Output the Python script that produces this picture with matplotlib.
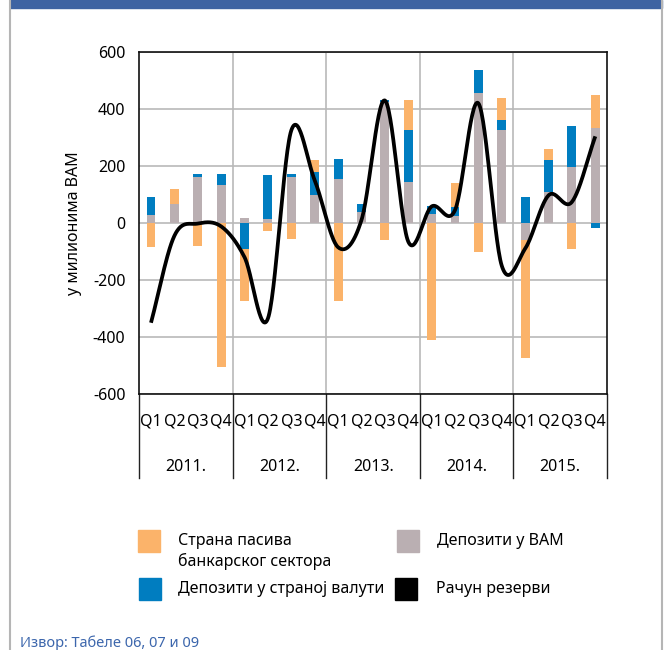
import numpy as np
import matplotlib
matplotlib.use("Agg")
import matplotlib.pyplot as plt
from matplotlib.patches import Rectangle
from matplotlib.lines import Line2D
import matplotlib.transforms as mtransforms

plt.rcParams["font.family"] = ["Noto Sans", "DejaVu Sans"]

years = ["2011.", "2012.", "2013.", "2014.", "2015."]
quarters = ["Q1", "Q2", "Q3", "Q4"]

# млн КМ по кварталима
strana_pasiva = [-85, 52, -81, -504,
                 -182, -28, -57, 41,
                 -274, 0, -61, 107,
                 -409, 85, -103, 78,
                 -417, 39, -92, 117]
depoziti_bam = [27, 68, 161, 132,
                19, 13, 161, 97,
                155, 37, 425, 144,
                30, 23, 455, 327,
                -58, 109, 196, 333]
depoziti_devizni = [63, 0, 12, 41,
                    -92, 154, 12, 82,
                    70, 29, 8, 181,
                    30, 33, 82, 33,
                    91, 113, 146, -16]
racun_rezervi = [-350, -45, -2, -12,
                 -120, -335, 325, 150,
                 -85, 10, 430, -65,
                 58, 45, 420, -150,
                 -90, 97, 74, 304]

c_orange = "#FBB36A"
c_gray = "#BAAFB2"
c_blue = "#007DC0"


def catmull_rom(xs, ys, n=30):
    # glatka linija kroz tacke (kao "smoothed line")
    xs = np.asarray(xs, float)
    ys = np.asarray(ys, float)
    px = np.concatenate([[2 * xs[0] - xs[1]], xs, [2 * xs[-1] - xs[-2]]])
    py = np.concatenate([[2 * ys[0] - ys[1]], ys, [2 * ys[-1] - ys[-2]]])
    out_x, out_y = [], []
    t = np.linspace(0, 1, n, endpoint=False)
    for i in range(1, len(px) - 2):
        for p, out in ((px, out_x), (py, out_y)):
            p0, p1, p2, p3 = p[i - 1], p[i], p[i + 1], p[i + 2]
            out.extend(0.5 * ((2 * p1) + (-p0 + p2) * t
                              + (2 * p0 - 5 * p1 + 4 * p2 - p3) * t ** 2
                              + (-p0 + 3 * p1 - 3 * p2 + p3) * t ** 3))
    out_x.append(xs[-1])
    out_y.append(ys[-1])
    return np.array(out_x), np.array(out_y)


fig = plt.figure(figsize=(6.67, 6.5), dpi=100)
ax = fig.add_axes([139.3 / 667, 1 - 394 / 650, (607 - 139.3) / 667, (394 - 52) / 650])

n = len(racun_rezervi)
x = np.arange(n) + 0.5
w = 0.38

# pozitivni i negativni dijelovi se slazu odvojeno: КМ, девизни, страна пасива
pos = np.zeros(n)
neg = np.zeros(n)
for vals, col in ((depoziti_bam, c_gray), (depoziti_devizni, c_blue), (strana_pasiva, c_orange)):
    v = np.array(vals, float)
    vp = np.where(v > 0, v, 0)
    vn = np.where(v < 0, v, 0)
    ax.bar(x, vp, w, bottom=pos, color=col, zorder=3, linewidth=0)
    ax.bar(x, vn, w, bottom=neg, color=col, zorder=3, linewidth=0)
    pos += vp
    neg += vn

lx, ly = catmull_rom(x, racun_rezervi)
ax.plot(lx, ly, color="black", lw=2.7, zorder=4, solid_capstyle="butt")

ax.set_xlim(0, n)
ax.set_ylim(-600, 600)
ax.set_yticks(np.arange(-600, 601, 200))
ax.set_yticklabels([str(v) for v in range(-600, 601, 200)], fontsize=11.5)
ax.tick_params(axis="y", length=0, pad=10)
ax.set_xticks([])
ax.grid(axis="y", color="#b9b9b9", lw=1.2, zorder=1)
for b in range(4, n, 4):
    ax.axvline(b, color="#b9b9b9", lw=1.2, zorder=1)
for s in ax.spines.values():
    s.set_color("#111111")
    s.set_linewidth(1.2)
ax.set_ylabel("у милионима ВАМ", fontsize=11.5, labelpad=8)

# kategorije ispod ose: kvartali i godine
trans = mtransforms.blended_transform_factory(ax.transData, ax.transAxes)
for b in range(0, n + 1, 4):
    ax.add_line(Line2D([b, b], [0, -0.246], transform=trans, color="#222222",
                       lw=1.0, clip_on=False))
for i in range(n):
    ax.text(x[i], -0.079, quarters[i % 4], transform=trans, ha="center", va="center",
            fontsize=11.5, clip_on=False)
for j, yr in enumerate(years):
    ax.text(4 * j + 2, -0.213, yr, transform=trans, ha="center", va="center",
            fontsize=11.5, clip_on=False)

# okvir i traka na vrhu
fig.patches.append(Rectangle((10 / 667, 1 - 8 / 650), 652 / 667, 8 / 650,
                             transform=fig.transFigure, color="#3E63A2", zorder=0))
for xb in (10, 662):
    fig.lines.append(Line2D([xb / 667, xb / 667], [0, 1], transform=fig.transFigure,
                            color="#b5b5b5", lw=1.5))

# legenda
def leg_item(px, py, color, tx, lines):
    fig.patches.append(Rectangle((px / 667, 1 - (py + 22) / 650), 22 / 667, 22 / 650,
                                 transform=fig.transFigure, color=color))
    for k, t in enumerate(lines):
        fig.text(tx / 667, 1 - (py + 11 + 20 * k) / 650, t, ha="left", va="center",
                 fontsize=11.5)


leg_item(138, 530, c_orange, 178, ["Страна пасива", "банкарског сектора"])
leg_item(397, 530, c_gray, 437, ["Депозити у ВАМ"])
leg_item(139, 578, c_blue, 178, ["Депозити у страној валути"])
leg_item(395, 578, "black", 436, ["Рачун резерви"])

fig.text(20 / 667, 1 - 643 / 650, "Извор: Табеле 06, 07 и 09", ha="left", va="center",
         fontsize=10.5, color="#3C66AC")

fig.savefig("out.png", dpi=100)
